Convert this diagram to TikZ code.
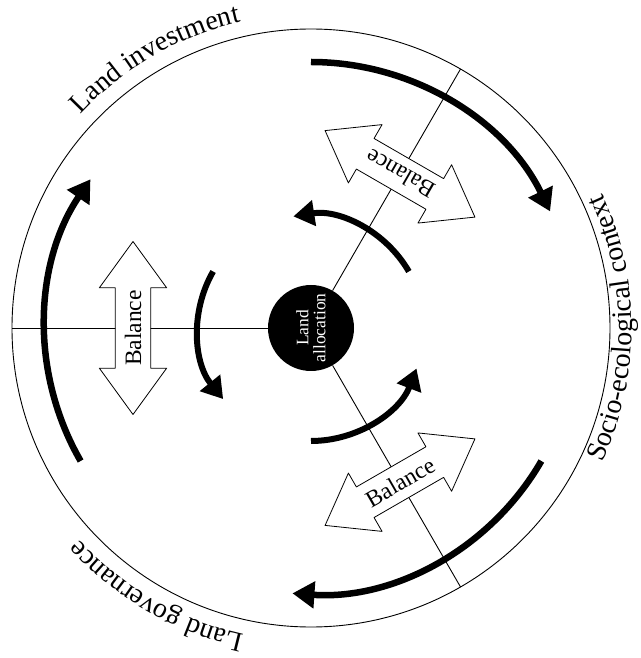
\documentclass[tikz,border=0pt]{standalone}
\usepackage{fontspec}
\setmainfont{Liberation Serif}
\usetikzlibrary{arrows.meta,shapes.arrows,decorations.text}
\newcommand\ringfont{\fontsize{28}{30}\selectfont}
\begin{document}
\begin{tikzpicture}[x=1pt,y=1pt,line join=round,
	rim/.style={line width=0.9pt},
	spoke/.style={line width=0.9pt},
	bigarc/.style={line width=6.5pt,-{Triangle[width=26pt,length=22pt]}},
	smallarc/.style={line width=6pt,-{Triangle[width=25pt,length=21pt]}},
	balance/.style={draw,fill=white,line width=0.8pt,shape=double arrow,double arrow head extend=16pt,
		double arrow tip angle=72,minimum height=173pt,inner xsep=4pt,inner ysep=9pt,
		font=\fontsize{23.5}{25}\selectfont},
	hub/.style={circle,fill=black,text=white,minimum size=86pt,inner sep=0pt,align=center,
		font=\fontsize{17.5}{17}\selectfont},
	ringtext/.style={decorate,decoration={text along path,text align=center,text={|\ringfont|#1}}}]
	\useasboundingbox (-311,-330) rectangle (329,328);
	\def\R{299} \def\Ro{266} \def\Ri{113} \def\Rb{178}
	\draw[rim] (0,0) circle[radius=\R];
	\node[hub,rotate=90] (alloc) at (0,0) {Land\\allocation};
	\foreach \a [count=\i] in {60,180,300}
	{\coordinate (rim\i) at (\a:\R);
		\draw[spoke] (alloc) -- (rim\i);}
	\node[balance,rotate=150] (bal1) at (60:\Rb) {Balance};
	\node[balance,rotate=90] (bal2) at (180:\Rb) {Balance};
	\node[balance,rotate=30] (bal3) at (300:\Rb) {Balance};
	\foreach \a in {90,210,330}
	{\draw[bigarc] (\a:\Ro) arc[start angle=\a,end angle=\a-64,radius=\Ro];}
	\foreach \a in {30,150,270}
	{\draw[smallarc] (\a:\Ri) arc[start angle=\a,end angle=\a+69,radius=\Ri];}
	\path[ringtext={Land investment}] (160:314) arc[start angle=160,end angle=80,radius=314];
	\path[ringtext={Land governance}] (280:314) arc[start angle=280,end angle=200,radius=314];
	\path[ringtext={Socio-ecological context}] (-40:321) arc[start angle=-40,end angle=40,radius=321];
\end{tikzpicture}
\end{document}
